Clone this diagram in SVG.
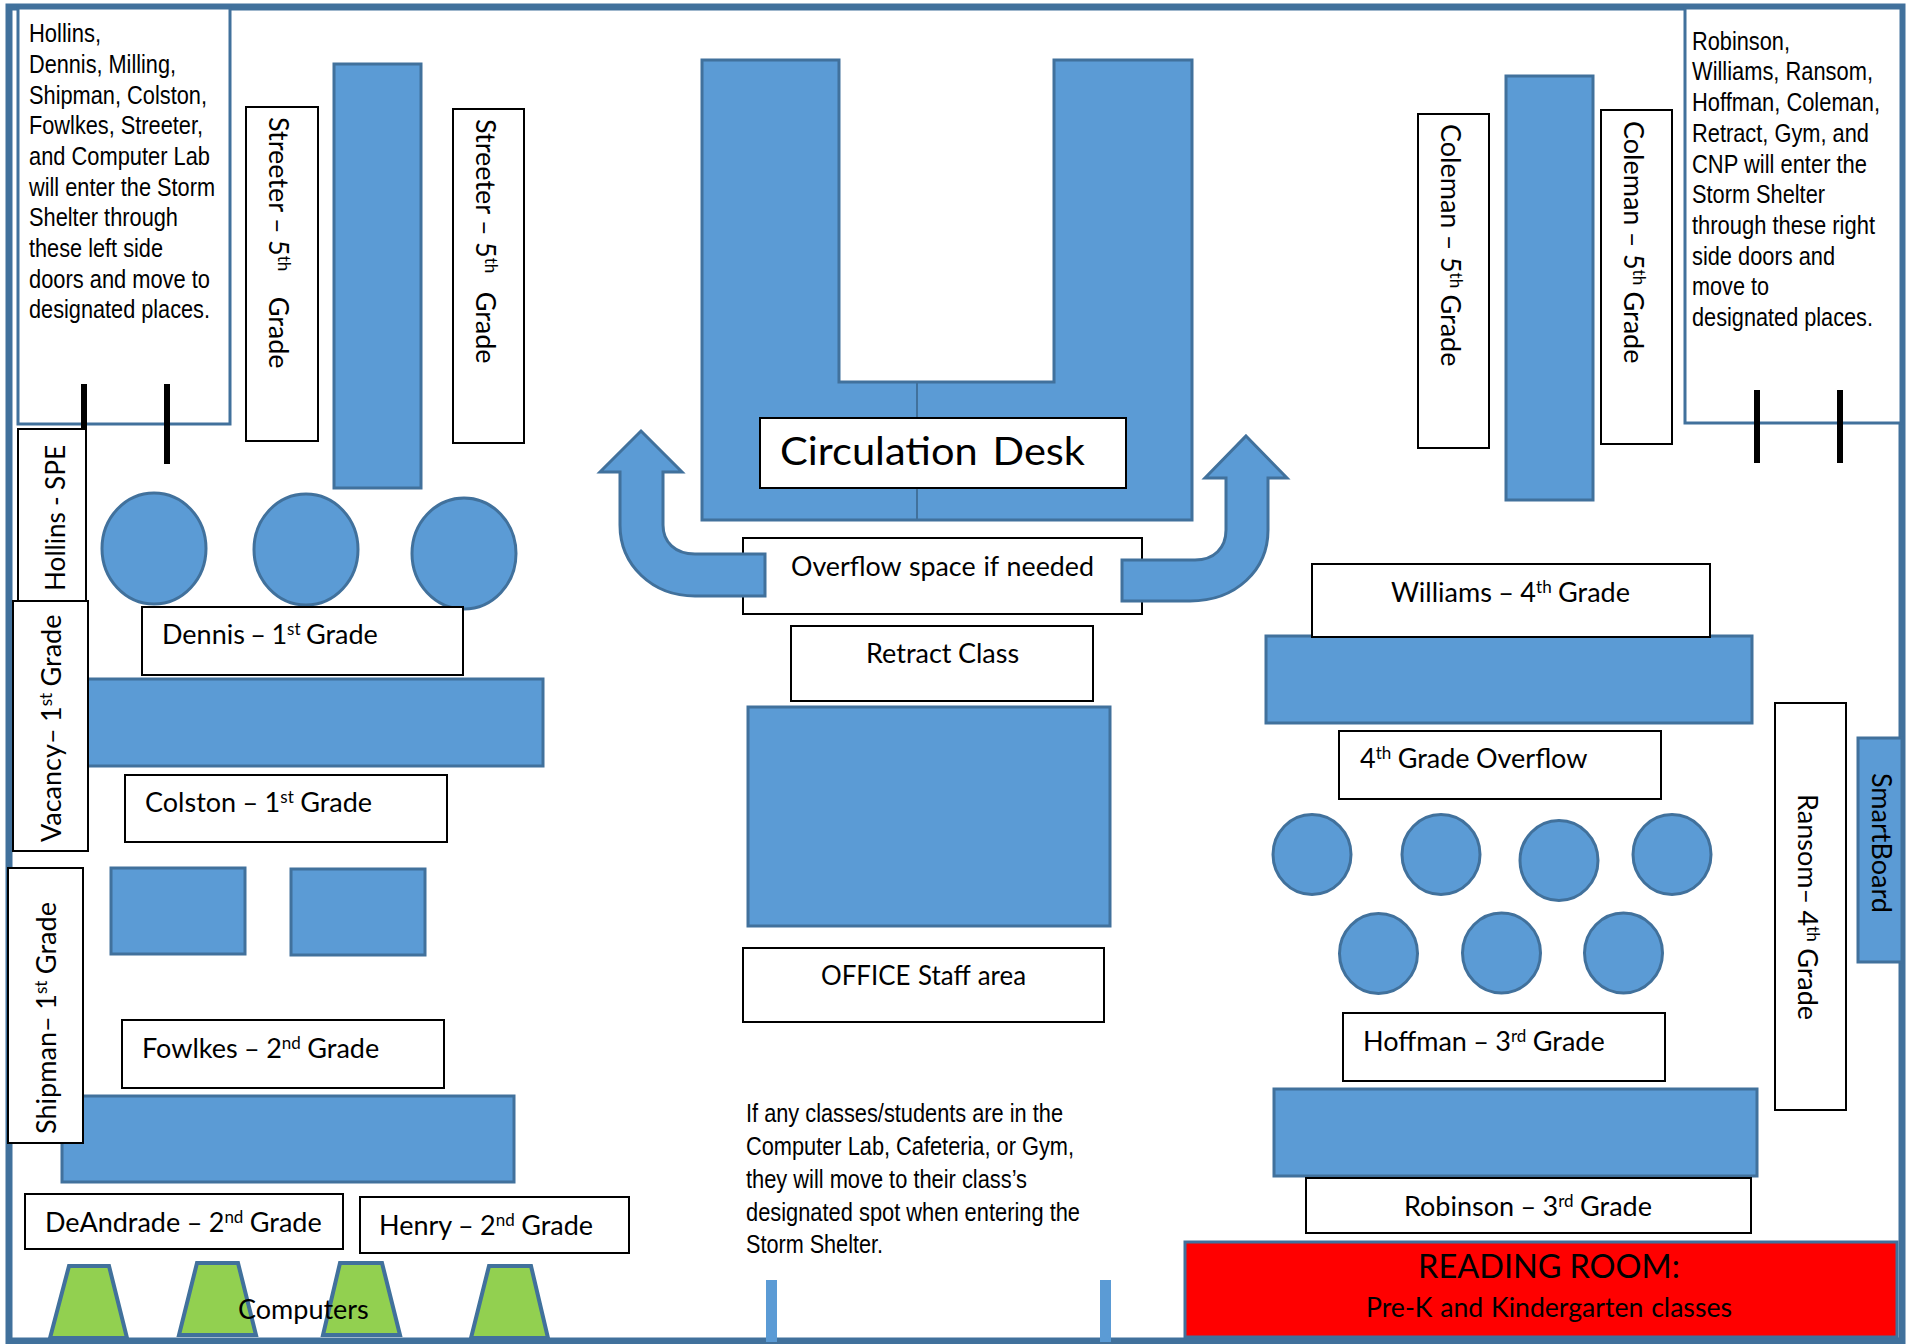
<svg xmlns="http://www.w3.org/2000/svg" width="1913" height="1344" viewBox="0 0 1913 1344">
<defs><style>
.b{fill:#5b9bd5;stroke:#41719c;stroke-width:3}
.l{fill:#fff;stroke:#000;stroke-width:2}
.t{fill:#fff;stroke:#41719c;stroke-width:3}
.g{fill:#92d050;stroke:#41719c;stroke-width:4}
.d{stroke:#000;stroke-width:6;fill:none}
text{font-family:Lato,"Open Sans",sans-serif;font-size:27px;fill:#000;word-spacing:-.5px}
.a text,text.a{font-family:"Liberation Sans",Arial,sans-serif;font-size:26px;word-spacing:0}
.s{font-size:17px}
</style></defs>
<rect width="1913" height="1344" fill="#fff"/>
<rect id="frame" x="9" y="7" width="1893" height="1334" fill="none" stroke="#41719c" stroke-width="7"/>

<g id="left-note"><rect class="t" x="18" y="8" width="212" height="416"/>
<g class="a">
<text x="29" y="42" textLength="72" lengthAdjust="spacingAndGlyphs">Hollins,</text>
<text x="29" y="73" textLength="147" lengthAdjust="spacingAndGlyphs">Dennis, Milling,</text>
<text x="29" y="104" textLength="178" lengthAdjust="spacingAndGlyphs">Shipman, Colston,</text>
<text x="29" y="134" textLength="174" lengthAdjust="spacingAndGlyphs">Fowlkes, Streeter,</text>
<text x="29" y="165" textLength="181" lengthAdjust="spacingAndGlyphs">and Computer Lab</text>
<text x="29" y="196" textLength="186" lengthAdjust="spacingAndGlyphs">will enter the Storm</text>
<text x="29" y="226" textLength="149" lengthAdjust="spacingAndGlyphs">Shelter through</text>
<text x="29" y="257" textLength="134" lengthAdjust="spacingAndGlyphs">these left side</text>
<text x="29" y="288" textLength="181" lengthAdjust="spacingAndGlyphs">doors and move to</text>
<text x="29" y="318" textLength="181" lengthAdjust="spacingAndGlyphs">designated places.</text>
</g></g>
<g id="left-doors"><line class="d" x1="84" y1="384" x2="84" y2="464"/><line class="d" x1="167" y1="384" x2="167" y2="464"/></g>

<g id="streeter-a"><rect class="l" x="246" y="107" width="72" height="334"/><text transform="translate(269 117) rotate(90)">Streeter – 5<tspan class="s" dy="-9">th</tspan><tspan dy="9" dx="19"> Grade</tspan></text></g>
<g id="bar-left"><rect class="b" x="334" y="64" width="87" height="424"/></g>
<g id="streeter-b"><rect class="l" x="453" y="109" width="71" height="334"/><text transform="translate(476 119) rotate(90)">Streeter – 5<tspan class="s" dy="-9">th</tspan><tspan dy="9" dx="12"> Grade</tspan></text></g>

<g id="hollins-spe"><rect class="l" x="18" y="429" width="68" height="174" stroke="#444"/><text transform="translate(65 591) rotate(-90)" textLength="146" lengthAdjust="spacingAndGlyphs">Hollins - SPE</text></g>
<g id="seats-left"><ellipse class="b" cx="154" cy="548.5" rx="52" ry="55.5"/><ellipse class="b" cx="306" cy="549.5" rx="52" ry="55.5"/><ellipse class="b" cx="464" cy="553.5" rx="52" ry="55.5"/></g>
<g id="dennis"><rect class="l" x="142" y="607" width="321" height="68"/><text x="162" y="644" style="word-spacing:-1.5px">Dennis – 1<tspan class="s" dy="-9">st</tspan><tspan dy="9"> Grade</tspan></text></g>
<g id="table-dennis"><rect class="b" x="84" y="679" width="459" height="87"/></g>
<g id="vacancy"><rect class="l" x="13" y="601" width="75" height="250"/><text transform="translate(61 842) rotate(-90)">Vacancy– 1<tspan class="s" dy="-9">st</tspan><tspan dy="9"> Grade</tspan></text></g>
<g id="colston"><rect class="l" x="125" y="775" width="322" height="67"/><text x="145" y="812">Colston – 1<tspan class="s" dy="-9">st</tspan><tspan dy="9"> Grade</tspan></text></g>
<g id="table-small"><rect class="b" x="111" y="868" width="134" height="86"/><rect class="b" x="291" y="869" width="134" height="86"/></g>
<g id="table-fowlkes"><rect class="b" x="62" y="1096" width="452" height="86"/></g>
<g id="shipman"><rect class="l" x="8" y="868" width="75" height="275"/><text transform="translate(56 1134) rotate(-90)" textLength="232" lengthAdjust="spacingAndGlyphs">Shipman– 1<tspan class="s" dy="-9">st</tspan><tspan dy="9"> Grade</tspan></text></g>
<g id="fowlkes"><rect class="l" x="122" y="1020" width="322" height="68"/><text x="142" y="1058">Fowlkes – 2<tspan class="s" dy="-9">nd</tspan><tspan dy="9"> Grade</tspan></text></g>
<g id="deandrade"><rect class="l" x="25" y="1194" width="318" height="55"/><text x="45" y="1232">DeAndrade – 2<tspan class="s" dy="-9">nd</tspan><tspan dy="9"> Grade</tspan></text></g>
<g id="henry"><rect class="l" x="360" y="1197" width="269" height="56"/><text x="379" y="1235">Henry – 2<tspan class="s" dy="-9">nd</tspan><tspan dy="9"> Grade</tspan></text></g>
<g id="computers"><polygon class="g" points="50,1338 69,1266 109,1266 127,1338"/><polygon class="g" points="179,1335 197,1263 238,1263 256,1335"/><polygon class="g" points="323,1335 340,1263 382,1263 400,1335"/><polygon class="g" points="471,1338 489,1266 531,1266 548,1338"/><text x="238" y="1319">Computers</text></g>

<g id="circulation"><path class="b" d="M702 60H839V382H1054V60H1192V520H702Z"/><line x1="917" y1="382" x2="917" y2="520" stroke="#41719c" stroke-width="2"/><rect class="l" x="760" y="418" width="366" height="70"/><text x="780" y="465" style="font-size:39px;word-spacing:4px" textLength="305" lengthAdjust="spacingAndGlyphs">Circulation Desk</text></g>
<g id="overflow"><rect class="l" x="743" y="538" width="399" height="76" stroke="#444"/><text x="791" y="576" style="word-spacing:1px" textLength="303" lengthAdjust="spacingAndGlyphs">Overflow space if needed</text></g>
<g id="connectors">
<path class="b" d="M641 431L682 472H663V525C663 542 675 554 695 554H765V596H695C652 596 620 565 620 525V472H600Z"/>
<path class="b" d="M1246 436L1287 478H1268V530C1268 570 1236 601 1190 601H1122V560H1195C1214 560 1226 548 1226 530V478H1205Z"/>
</g>
<g id="retract"><rect class="l" x="791" y="626" width="302" height="75" stroke="#444"/><text x="866" y="663">Retract Class</text></g>
<g id="table-center"><rect class="b" x="748" y="707" width="362" height="219"/></g>
<g id="office"><rect class="l" x="743" y="948" width="361" height="74" stroke="#444"/><text x="821" y="985" style="word-spacing:1px" textLength="205" lengthAdjust="spacingAndGlyphs">OFFICE Staff area</text></g>
<g id="note-center" class="a">
<text x="746" y="1122" textLength="317" lengthAdjust="spacingAndGlyphs">If any classes/students are in the</text>
<text x="746" y="1155" textLength="328" lengthAdjust="spacingAndGlyphs">Computer Lab, Cafeteria, or Gym,</text>
<text x="746" y="1188" textLength="281" lengthAdjust="spacingAndGlyphs">they will move to their class’s</text>
<text x="746" y="1221" textLength="334" lengthAdjust="spacingAndGlyphs">designated spot when entering the</text>
<text x="746" y="1253" textLength="137" lengthAdjust="spacingAndGlyphs">Storm Shelter.</text>
</g>
<g id="pillars"><rect x="766" y="1280" width="11" height="62" fill="#5b9bd5"/><rect x="1100" y="1280" width="11" height="62" fill="#5b9bd5"/></g>

<g id="coleman-a"><rect class="l" x="1418" y="114" width="71" height="334"/><text transform="translate(1441 124) rotate(90)">Coleman – 5<tspan class="s" dy="-9">th</tspan><tspan dy="9"> Grade</tspan></text></g>
<g id="bar-right"><rect class="b" x="1506" y="76" width="87" height="424"/></g>
<g id="coleman-b"><rect class="l" x="1601" y="110" width="71" height="334" stroke="#444"/><text transform="translate(1624 121) rotate(90)">Coleman – 5<tspan class="s" dy="-9">th</tspan><tspan dy="9"> Grade</tspan></text></g>
<g id="right-note"><rect class="t" x="1685" y="8" width="216" height="415"/>
<g class="a">
<text x="1692" y="50" textLength="98" lengthAdjust="spacingAndGlyphs">Robinson,</text>
<text x="1692" y="80" textLength="181" lengthAdjust="spacingAndGlyphs">Williams, Ransom,</text>
<text x="1692" y="111" textLength="188" lengthAdjust="spacingAndGlyphs">Hoffman, Coleman,</text>
<text x="1692" y="142" textLength="177" lengthAdjust="spacingAndGlyphs">Retract, Gym, and</text>
<text x="1692" y="173" textLength="175" lengthAdjust="spacingAndGlyphs">CNP will enter the</text>
<text x="1692" y="203" textLength="133" lengthAdjust="spacingAndGlyphs">Storm Shelter</text>
<text x="1692" y="234" textLength="183" lengthAdjust="spacingAndGlyphs">through these right</text>
<text x="1692" y="265" textLength="143" lengthAdjust="spacingAndGlyphs">side doors and</text>
<text x="1692" y="295" textLength="77" lengthAdjust="spacingAndGlyphs">move to</text>
<text x="1692" y="326" textLength="181" lengthAdjust="spacingAndGlyphs">designated places.</text>
</g></g>
<g id="right-doors"><line class="d" x1="1757" y1="390" x2="1757" y2="463"/><line class="d" x1="1840" y1="390" x2="1840" y2="463"/></g>

<g id="table-williams"><rect class="b" x="1266" y="636" width="486" height="87"/></g>
<g id="williams"><rect class="l" x="1312" y="564" width="398" height="73"/><text x="1391" y="602">Williams – 4<tspan class="s" dy="-9">th</tspan><tspan dy="9"> Grade</tspan></text></g>
<g id="overflow-4"><rect class="l" x="1339" y="731" width="322" height="68" stroke="#444"/><text x="1360" y="768">4<tspan class="s" dy="-9">th</tspan><tspan dy="9"> Grade Overflow</tspan></text></g>
<g id="seats-right"><ellipse class="b" cx="1312" cy="854.5" rx="39" ry="40"/><ellipse class="b" cx="1441" cy="854.5" rx="39" ry="40"/><ellipse class="b" cx="1559" cy="860.5" rx="39" ry="40"/><ellipse class="b" cx="1672" cy="854.5" rx="39" ry="40"/><ellipse class="b" cx="1378.5" cy="953.5" rx="39" ry="40"/><ellipse class="b" cx="1501.5" cy="953" rx="39" ry="40"/><ellipse class="b" cx="1623.5" cy="953" rx="39" ry="40"/></g>
<g id="hoffman"><rect class="l" x="1343" y="1013" width="322" height="68"/><text x="1363" y="1051">Hoffman – 3<tspan class="s" dy="-9">rd</tspan><tspan dy="9"> Grade</tspan></text></g>
<g id="table-hoffman"><rect class="b" x="1274" y="1089" width="483" height="87"/></g>
<g id="robinson"><rect class="l" x="1306" y="1178" width="445" height="55"/><text x="1404" y="1216">Robinson – 3<tspan class="s" dy="-9">rd</tspan><tspan dy="9"> Grade</tspan></text></g>
<g id="reading-room"><rect x="1185" y="1242" width="712" height="95" fill="#f00" stroke="#41719c" stroke-width="3"/><text x="1549" y="1278" text-anchor="middle" style="font-size:32.5px">READING ROOM:</text><text x="1549" y="1317" text-anchor="middle" style="word-spacing:1px" textLength="366" lengthAdjust="spacingAndGlyphs">Pre-K and Kindergarten classes</text></g>
<g id="ransom"><rect class="l" x="1775" y="703" width="71" height="407"/><text transform="translate(1798 794) rotate(90)">Ransom– 4<tspan class="s" dy="-9">th</tspan><tspan dy="9"> Grade</tspan></text></g>
<g id="smartboard"><rect class="b" x="1858" y="738" width="44" height="224"/><text transform="translate(1872 773) rotate(90)">SmartBoard</text></g>
</svg>
